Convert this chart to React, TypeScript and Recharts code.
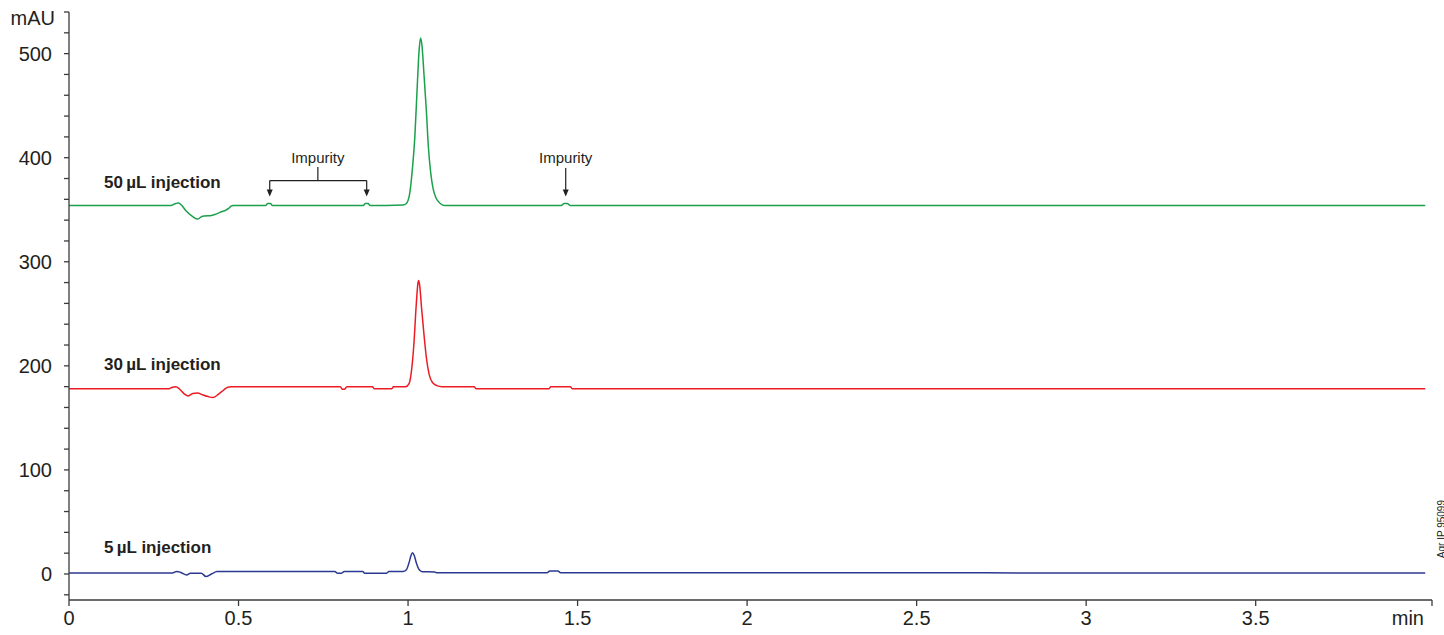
import React from "react";
import {
  LineChart,
  Line,
  XAxis,
  YAxis,
  ReferenceLine,
  ReferenceDot,
} from "recharts";

const FONT = "'Liberation Sans', Arial, Helvetica, sans-serif";
const INK = "#231f20";

// retention time (min) and absorbance (mAU)
const time50 = [
  0, 0.3, 0.315, 0.322, 0.33, 0.345, 0.362, 0.379, 0.392, 0.4, 0.42, 0.435,
  0.45, 0.462, 0.47, 0.478, 0.484, 0.58, 0.586, 0.594, 0.6, 0.868, 0.874,
  0.882, 0.888, 0.985, 0.995, 1.005, 1.013, 1.02, 1.027, 1.033, 1.037, 1.041,
  1.047, 1.054, 1.06, 1.067, 1.074, 1.083, 1.095, 1.108, 1.452, 1.46, 1.47,
  1.478, 4.0,
];
const mau50 = [
  354, 354, 356, 356.5, 355, 349, 344, 341, 343.5, 344, 344.5, 346, 348, 349.5,
  351, 353.5, 354, 354, 356, 356, 354, 354, 356, 356, 354, 354.5, 356, 366, 390,
  420, 468, 505, 515, 508, 480, 445, 410, 385, 370, 361, 356, 354, 354, 356,
  356, 354, 354,
];

const time30 = [
  0, 0.295, 0.305, 0.315, 0.325, 0.34, 0.352, 0.365, 0.379, 0.395, 0.41, 0.424,
  0.44, 0.457, 0.468, 0.478, 0.8, 0.806, 0.812, 0.82, 0.895, 0.9, 0.952, 0.957,
  0.993, 1.003, 1.01, 1.017, 1.024, 1.029, 1.031, 1.034, 1.04, 1.047, 1.054,
  1.062, 1.072, 1.085, 1.1, 1.195, 1.2, 1.416, 1.421, 1.479, 1.484, 4.0,
];
const mau30 = [
  178, 178, 179.5, 180, 178, 173, 171, 173.5, 174, 172, 170.5, 169.5, 172.5,
  177, 179.5, 180, 180, 177.5, 177.5, 180, 180, 178, 178, 180, 180, 183, 195,
  220, 258, 279, 282, 278, 255, 230, 208, 192, 184, 181, 180, 180, 178, 178,
  180, 180, 178, 178,
];

const time5 = [
  0, 0.305, 0.318, 0.33, 0.347, 0.358, 0.39, 0.404, 0.42, 0.437, 0.784, 0.792,
  0.804, 0.812, 0.866, 0.872, 0.937, 0.943, 0.985, 0.995, 1.003, 1.009, 1.013,
  1.018, 1.025, 1.033, 1.042, 1.078, 1.085, 1.41, 1.418, 1.442, 1.45, 4.0,
];
const mau5 = [
  1, 1, 2.5, 1.5, -0.9, 0.8, 0.8, -2.5, 0, 2.3, 2.3, 0.8, 0.8, 2.5, 2.5, 0.8,
  0.8, 2.3, 2.3, 4, 11, 18, 20.5, 18, 10, 4, 2.2, 2, 1.2, 1.2, 2.8, 2.8, 1.2, 1,
];

const xTicks = [0, 0.5, 1, 1.5, 2, 2.5, 3, 3.5, 4.02];
const yTicks = [
  -20, 0, 20, 40, 60, 80, 100, 120, 140, 160, 180, 200, 220, 240, 260, 280, 300,
  320, 340, 360, 380, 400, 420, 440, 460, 480, 500, 520, 540,
];
const X_MAX = 4.02;

const toRows = (t: number[], v: number[]) => t.map((x, i) => ({ t: x, v: v[i] }));

const series = [
  { name: "50 µL", data: toRows(time50, mau50), color: "#1ba14b" },
  { name: "30 µL", data: toRows(time30, mau30), color: "#ec1c24" },
  { name: "5 µL", data: toRows(time5, mau5), color: "#2b3990" },
];

// trace labels (left edge / baseline in data units)
const traceLabels = [
  { text: "50\u2009µL injection", x: 0.103, y: 370.5 },
  { text: "30\u2009µL injection", x: 0.103, y: 196 },
  { text: "5\u2009µL injection", x: 0.103, y: 20 },
];

const XTick = (props: any) => {
  const { x, y, payload } = props;
  const last = payload.value === X_MAX;
  return (
    <text
      x={last ? x - 6 : x}
      y={y}
      dy='0.71em'
      textAnchor={last ? "end" : "middle"}
      fill={INK}
      fontSize={20}
      fontFamily={FONT}>
      {last ? "min" : payload.value}
    </text>
  );
};

const labelShape = (text: string, bold: boolean) => (p: any) =>
  (
    <text
      x={p.cx}
      y={p.cy}
      textAnchor={bold ? "start" : "middle"}
      fontSize={bold ? 17 : 15}
      fontWeight={bold ? "bold" : "normal"}
      fontFamily={bold ? FONT : "'Liberation Sans Narrow', " + FONT}
      fill={INK}>
      {text}
    </text>
  );

const arrowHead = (p: any) => (
  <path d={`M${p.cx},${p.cy} l-3,-7 l6,0 z`} fill={INK} />
);

export default function App() {
  return (
    <div
      style={{
        position: "absolute",
        left: 8,
        top: 8,
        width: 1436,
        height: 627,
        overflow: "hidden",
        fontFamily: FONT,
      }}>
      <div
        style={{
          position: "absolute",
          left: 0,
          top: 0,
          width: 47,
          textAlign: "right",
          fontSize: 20,
          lineHeight: "20px",
          color: INK,
        }}>
        mAU
      </div>
      <div
        style={{
          position: "absolute",
          left: 1429,
          top: 492,
          fontSize: 10,
          lineHeight: "10px",
          writingMode: "vertical-rl",
          transform: "rotate(180deg)",
          color: INK,
        }}>
        Agr IP 95099
      </div>
      <LineChart
        width={1436}
        height={627}
        margin={{ top: 4, right: 12, left: 0, bottom: 0 }}>
        <XAxis
          type='number'
          dataKey='t'
          domain={[0, X_MAX]}
          ticks={xTicks}
          allowDataOverflow
          height={35}
          tickSize={6}
          tickMargin={5}
          stroke='#3b3b3b'
          strokeWidth={1.3}
          tick={<XTick />}
        />
        <YAxis
          type='number'
          domain={[-25, 540]}
          ticks={yTicks}
          allowDataOverflow
          width={61}
          tickSize={5}
          tickMargin={12}
          stroke='#3b3b3b'
          strokeWidth={1.3}
          interval={0}
          tickFormatter={(v: number) => (v % 100 === 0 ? String(v) : "")}
          tick={{ fill: INK, fontSize: 20, fontFamily: FONT }}
        />
        {series.map((s) => (
          <Line
            key={s.name}
            data={s.data}
            dataKey='v'
            type='monotone'
            stroke={s.color}
            strokeWidth={1.5}
            dot={false}
            isAnimationActive={false}
          />
        ))}
        {traceLabels.map((l) => (
          <ReferenceDot
            key={l.text}
            x={l.x}
            y={l.y}
            r={0}
            shape={labelShape(l.text, true)}
          />
        ))}
        {/* impurity annotations */}
        <ReferenceDot x={0.734} y={394.5} r={0} shape={labelShape("Impurity", false)} />
        <ReferenceDot x={1.465} y={394.5} r={0} shape={labelShape("Impurity", false)} />
        <ReferenceLine
          segment={[
            { x: 0.734, y: 391 },
            { x: 0.734, y: 378 },
          ]}
          stroke={INK}
          strokeWidth={1.2}
        />
        <ReferenceLine
          segment={[
            { x: 0.592, y: 378 },
            { x: 0.878, y: 378 },
          ]}
          stroke={INK}
          strokeWidth={1.2}
        />
        <ReferenceLine
          segment={[
            { x: 0.592, y: 378 },
            { x: 0.592, y: 366 },
          ]}
          stroke={INK}
          strokeWidth={1.2}
        />
        <ReferenceLine
          segment={[
            { x: 0.878, y: 378 },
            { x: 0.878, y: 366 },
          ]}
          stroke={INK}
          strokeWidth={1.2}
        />
        <ReferenceLine
          segment={[
            { x: 1.465, y: 390 },
            { x: 1.465, y: 366 },
          ]}
          stroke={INK}
          strokeWidth={1.2}
        />
        <ReferenceDot x={0.592} y={362.8} r={0} shape={arrowHead} />
        <ReferenceDot x={0.878} y={362.8} r={0} shape={arrowHead} />
        <ReferenceDot x={1.465} y={362.8} r={0} shape={arrowHead} />
      </LineChart>
    </div>
  );
}
